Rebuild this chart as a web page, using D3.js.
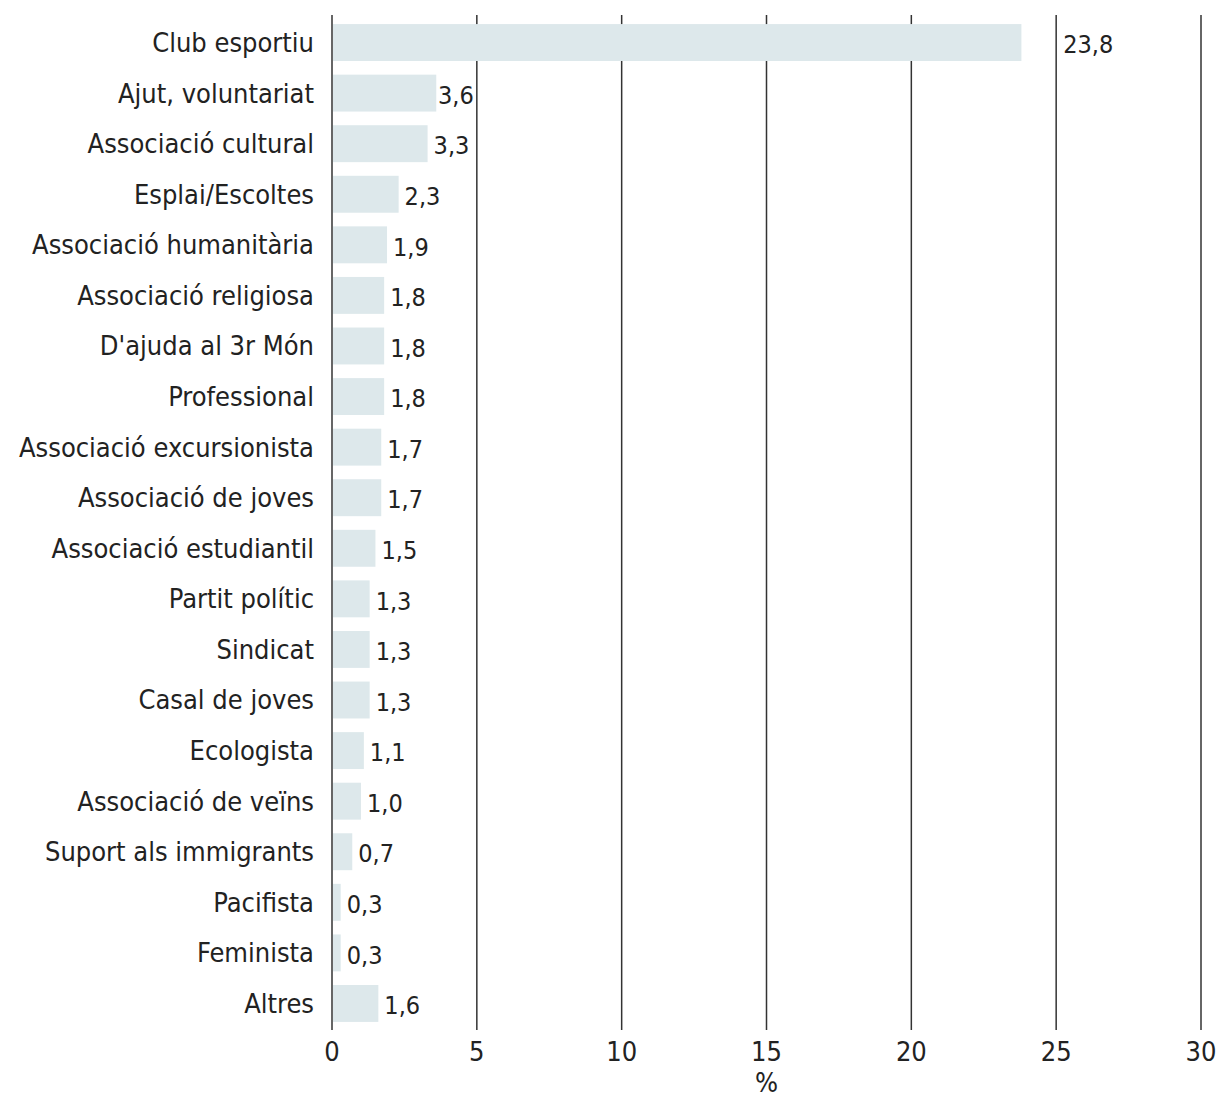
<html>
<head>
<style>
  body { margin: 0; background: #fff; }
  text { font-family: "DejaVu Sans Condensed", "DejaVu Sans", sans-serif; fill: #222; font-size: 27px; }
  .val { font-size: 25px; }
  .bar { fill: #dde8eb; }
  .grid line { stroke: #333; stroke-width: 1.5; }
</style>
<script src="https://d3js.org/d3.v7.min.js"></script>
</head>
<body>
<svg width="1218" height="1097"></svg>
<script>
var categories = ["Club esportiu", "Ajut, voluntariat", "Associació cultural", "Esplai/Escoltes",
  "Associació humanitària", "Associació religiosa", "D'ajuda al 3r Món", "Professional",
  "Associació excursionista", "Associació de joves", "Associació estudiantil", "Partit polític",
  "Sindicat", "Casal de joves", "Ecologista", "Associació de veïns", "Suport als immigrants",
  "Pacifista", "Feminista", "Altres"];
var values = [23.8, 3.6, 3.3, 2.3, 1.9, 1.8, 1.8, 1.8, 1.7, 1.7, 1.5, 1.3, 1.3, 1.3, 1.1, 1.0, 0.7, 0.3, 0.3, 1.6];
var ticks = [0, 5, 10, 15, 20, 25, 30];

var svg = d3.select("svg");
var x = d3.scaleLinear().domain([0, 30]).range([332, 1201]);
var y = d3.scaleBand().domain(categories).range([18, 1028]).paddingInner(0.27).paddingOuter(0.12);

// gridlines
svg.append("g").attr("class", "grid")
  .selectAll("line").data(ticks).enter().append("line")
  .attr("x1", function(d){ return x(d); }).attr("x2", function(d){ return x(d); })
  .attr("y1", 15).attr("y2", 1030);

// bars
svg.selectAll(".bar").data(values).enter().append("rect")
  .attr("class", "bar")
  .attr("x", x(0) + 1)
  .attr("y", function(d, i){ return y(categories[i]); })
  .attr("width", function(d){ return x(d) - x(0) - 1; })
  .attr("height", y.bandwidth());

// category labels
svg.selectAll(".cat").data(categories).enter().append("text")
  .attr("class", "cat")
  .attr("x", 314)
  .attr("y", function(d){ return y(d) + y.bandwidth() / 2; })
  .attr("dy", "0.35em")
  .attr("text-anchor", "end")
  .text(function(d){ return d; });

// value labels: keep them off the gridlines
var fmt = function(v){ return v.toFixed(1).replace(".", ","); };
svg.selectAll(".val").data(values).enter().append("text")
  .attr("class", "val")
  .attr("y", function(d, i){ return y(categories[i]) + y.bandwidth() / 2 + 2; })
  .attr("dy", "0.35em")
  .text(fmt)
  .attr("x", function(d){
    var xs = x(d) + 6;
    var w = this.getComputedTextLength();
    var next = ticks.filter(function(t){ return x(t) > x(d) + 1; })[0];
    if (next !== undefined && xs + w > x(next) - 3) {
      var over = xs + w - (x(next) - 3);
      if (over <= 8) xs -= over;
      else xs = x(next) + 7;
    }
    return xs;
  });

// axis tick labels
svg.selectAll(".tick-l").data(ticks).enter().append("text")
  .attr("x", function(d){ return x(d); })
  .attr("y", 1052)
  .attr("dy", "0.35em")
  .attr("text-anchor", "middle")
  .text(function(d){ return d; });

svg.append("text")
  .attr("x", (x(0) + x(30)) / 2)
  .attr("y", 1083)
  .attr("dy", "0.35em")
  .attr("text-anchor", "middle")
  .text("%");
</script>
</body>
</html>
